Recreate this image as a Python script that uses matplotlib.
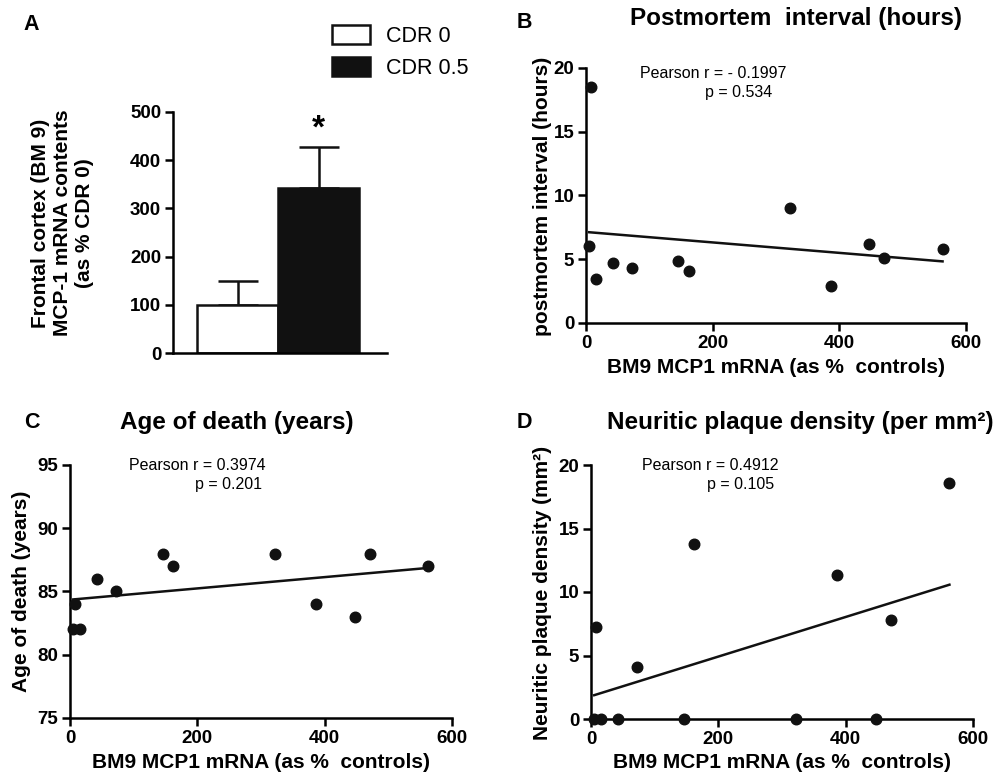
import numpy as np
import matplotlib
matplotlib.use("Agg")
import matplotlib.pyplot as plt

plt.rcParams['font.family'] = ['Liberation Sans', 'DejaVu Sans']

# panel A data
groups = ["CDR 0", "CDR 0.5"]
mcp1_mean = [100, 342]
mcp1_sem = [50, 85]

# scatter data (same 12 subjects, x = BM9 MCP1 mRNA as % controls)
mcp1_x = [5, 8, 15, 43, 72, 146, 162, 322, 387, 447, 471, 563]
pmi_hours = [6.0, 18.5, 3.45, 4.7, 4.3, 4.85, 4.05, 9.0, 2.9, 6.2, 5.1, 5.8]
age_years = [82, 84, 82, 86, 85, 88, 87, 88, 84, 83, 88, 87]
plaque_density = [0, 7.27, 0, 0, 4.07, 0, 13.75, 0, 11.3, 0, 7.8, 18.55]

W, H = 1001, 779
INK = "#111111"
LW = 1.8


def fx(px):
  return px / W


def fy(py):
  return 1 - py / H


def box(left, top, right, bottom):
  return [fx(left), fy(bottom), (right - left) / W, (bottom - top) / H]


def style(ax):
  ax.spines['top'].set_visible(False)
  ax.spines['right'].set_visible(False)
  ax.spines['left'].set_linewidth(LW)
  ax.spines['bottom'].set_linewidth(LW)
  ax.tick_params(direction='out', length=5.5, width=LW, labelsize=13.5, pad=3)
  for lab in ax.get_xticklabels() + ax.get_yticklabels():
    lab.set_fontweight('bold')


def scatter_panel(ax, x, y, ylim, yticks):
  ax.set_xlim(0, 600)
  ax.set_ylim(*ylim)
  ax.set_xticks([0, 200, 400, 600])
  ax.set_yticks(yticks)
  ax.plot(x, y, 'o', color=INK, ms=7.6, clip_on=False, zorder=5)
  k, b = np.polyfit(x, y, 1)
  xs = np.array([min(x), max(x)])
  ax.plot(xs, k * xs + b, color=INK, lw=1.8)
  style(ax)


fig = plt.figure(figsize=(W / 100, H / 100), dpi=100)

# ---- A ----
axA = fig.add_axes(box(173, 112, 387, 353))
bars = axA.bar([0, 1], mcp1_mean, width=1.0, color=["white", INK],
               edgecolor=INK, linewidth=LW, zorder=2)
axA.errorbar([0, 1], mcp1_mean, yerr=[[0, 0], mcp1_sem], fmt='none',
             ecolor=INK, elinewidth=LW, capsize=14.5, capthick=LW, zorder=1)
axA.set_xlim(-0.8, 1.84)
axA.set_ylim(0, 500)
axA.set_yticks(range(0, 501, 100))
axA.set_xticks([])
style(axA)
axA.annotate('*', xy=(1, mcp1_mean[1] + mcp1_sem[1]), xytext=(0, 2),
             textcoords='offset points', ha='center', va='bottom',
             fontsize=24, fontweight='bold')
fig.text(fx(63), fy(223), "Frontal cortex (BM 9)\nMCP-1 mRNA contents\n(as % CDR 0)",
         rotation=90, ha='center', va='center', fontsize=15, fontweight='bold',
         linespacing=1.2)
fig.legend(bars, groups, loc='upper left', bbox_to_anchor=(fx(332), fy(25)),
           frameon=False, fontsize=15.5, handlelength=1.75, handleheight=0.95,
           handletextpad=0.75, labelspacing=0.5, borderpad=0, borderaxespad=0)

# ---- B ----
axB = fig.add_axes(box(586, 68, 966, 323))
scatter_panel(axB, mcp1_x, pmi_hours, (0, 20), [0, 5, 10, 15, 20])

# ---- C ----
axC = fig.add_axes(box(70, 465, 452, 718))
scatter_panel(axC, mcp1_x, age_years, (75, 95), [75, 80, 85, 90, 95])

# ---- D ----
axD = fig.add_axes(box(591, 465, 973, 719))
scatter_panel(axD, mcp1_x, plaque_density, (0, 20), [0, 5, 10, 15, 20])

# panel letters and titles
for letter, (px, py) in zip("ABCD", [(31, 25), (524, 23), (32, 423), (524, 423)]):
  fig.text(fx(px), fy(py), letter, ha='center', va='center', fontsize=15.5, fontweight='bold')

fig.text(fx(796), fy(18), "Postmortem  interval (hours)", ha='center', va='center',
         fontsize=17.5, fontweight='bold')
fig.text(fx(237), fy(422), "Age of death (years)", ha='center', va='center',
         fontsize=17.5, fontweight='bold')
fig.text(fx(800), fy(422), "Neuritic plaque density (per mm\u00b2)", ha='center', va='center',
         fontsize=17.5, fontweight='bold')

# axis labels
for cx, cy in [(776, 368), (261, 763), (782, 763)]:
  fig.text(fx(cx), fy(cy), "BM9 MCP1 mRNA (as %  controls)", ha='center', va='center',
           fontsize=15, fontweight='bold')
fig.text(fx(543), fy(196), "postmortem interval (hours)", rotation=90, ha='center',
         va='center', fontsize=15, fontweight='bold')
fig.text(fx(22), fy(591), "Age of death (years)", rotation=90, ha='center',
         va='center', fontsize=15, fontweight='bold')
fig.text(fx(542), fy(593), "Neuritic plaque density (mm\u00b2)", rotation=90, ha='center',
         va='center', fontsize=15, fontweight='bold')

# Pearson annotations
notes = [
  ("Pearson r = - 0.1997", 640, 73), ("p = 0.534", 705, 92),
  ("Pearson r = 0.3974", 129, 466), ("p = 0.201", 195, 485),
  ("Pearson r = 0.4912", 642, 466), ("p = 0.105", 707, 485),
]
for txt, px, py in notes:
  fig.text(fx(px), fy(py), txt, ha='left', va='center', fontsize=11.5)

fig.savefig("out.png", dpi=100)
